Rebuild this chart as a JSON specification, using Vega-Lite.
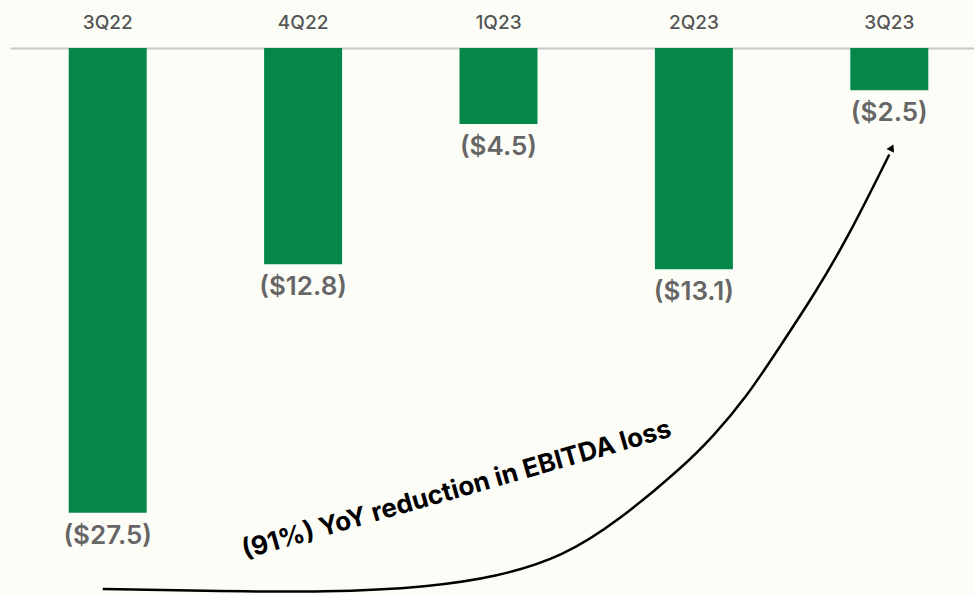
{
  "$schema": "https://vega.github.io/schema/vega-lite/v6.json",
  "width": 977,
  "height": 547,
  "autosize": {"type": "none"},
  "padding": {"left": 10, "top": 48, "right": 0, "bottom": 0},
  "background": "#FDFDF8",
  "config": {"view": {"stroke": null}},
  "datasets": {
    "bars": [
      {"quarter": "3Q22", "ebitda": -27.5, "label": "($27.5)"},
      {"quarter": "4Q22", "ebitda": -12.8, "label": "($12.8)"},
      {"quarter": "1Q23", "ebitda": -4.5, "label": "($4.5)"},
      {"quarter": "2Q23", "ebitda": -13.1, "label": "($13.1)"},
      {"quarter": "3Q23", "ebitda": -2.5, "label": "($2.5)"}
    ],
    "curve": [
      {"i": 0, "pos": 0.475, "v": -32.01},
      {"i": 1, "pos": 0.971, "v": -32.13},
      {"i": 2, "pos": 1.636, "v": -32.22},
      {"i": 3, "pos": 2.148, "v": -31.89},
      {"i": 4, "pos": 2.491, "v": -31.3},
      {"i": 5, "pos": 2.829, "v": -30.12},
      {"i": 6, "pos": 3.12, "v": -27.93},
      {"i": 7, "pos": 3.443, "v": -24.79},
      {"i": 8, "pos": 3.596, "v": -23.02},
      {"i": 9, "pos": 3.77, "v": -20.65},
      {"i": 10, "pos": 3.939, "v": -17.69},
      {"i": 11, "pos": 4.108, "v": -14.73},
      {"i": 12, "pos": 4.282, "v": -11.36},
      {"i": 13, "pos": 4.5, "v": -6.3}
    ],
    "tip": [{"pos": 4.513, "v": -5.9}],
    "note": [{"pos": 2.286, "v": -26.15, "text": "(91%) YoY reduction in EBITDA loss"}]
  },
  "layer": [
    {
      "data": {"name": "bars"},
      "layer": [
        {
          "mark": {"type": "bar", "size": 78, "color": "#05874A"},
          "encoding": {
            "x": {
              "field": "quarter", "type": "nominal", "sort": null,
              "scale": {"paddingInner": 0, "paddingOuter": 0},
              "axis": {
                "orient": "top", "title": null, "ticks": false,
                "domainColor": "#C8C8C8", "domainWidth": 2,
                "labelFont": "Inter", "labelFontSize": 19, "labelFontWeight": 500,
                "labelColor": "#555555", "labelPadding": 16, "labelAngle": 0
              }
            },
            "y": {
              "field": "ebitda", "type": "quantitative",
              "scale": {"domain": [-32.37, 0], "nice": false, "zero": true},
              "axis": null
            }
          }
        },
        {
          "mark": {"type": "text", "baseline": "middle", "dy": 23, "font": "Inter", "fontSize": 26, "fontWeight": 600, "color": "#666666"},
          "encoding": {
            "x": {"field": "quarter", "type": "nominal", "sort": null},
            "y": {"field": "ebitda", "type": "quantitative"},
            "text": {"field": "label"}
          }
        }
      ]
    },
    {
      "data": {"name": "curve"},
      "mark": {"type": "line", "interpolate": "basis", "color": "#000000", "strokeWidth": 2.5},
      "encoding": {
        "x": {"field": "pos", "type": "quantitative", "scale": {"domain": [0, 5], "nice": false, "zero": false}, "axis": null},
        "y": {"field": "v", "type": "quantitative"},
        "order": {"field": "i"}
      }
    },
    {
      "data": {"name": "tip"},
      "mark": {"type": "point", "shape": "triangle-up", "filled": true, "color": "#000000", "size": 70, "angle": 26, "opacity": 1},
      "encoding": {
        "x": {"field": "pos", "type": "quantitative", "scale": {"domain": [0, 5], "nice": false, "zero": false}, "axis": null},
        "y": {"field": "v", "type": "quantitative"}
      }
    },
    {
      "data": {"name": "note"},
      "mark": {"type": "text", "angle": -16, "align": "center", "baseline": "middle", "font": "Inter", "fontSize": 26, "fontWeight": 700, "color": "#000000"},
      "encoding": {
        "x": {"field": "pos", "type": "quantitative", "scale": {"domain": [0, 5], "nice": false, "zero": false}, "axis": null},
        "y": {"field": "v", "type": "quantitative"},
        "text": {"field": "text"}
      }
    }
  ],
  "resolve": {"scale": {"x": "independent"}}
}
